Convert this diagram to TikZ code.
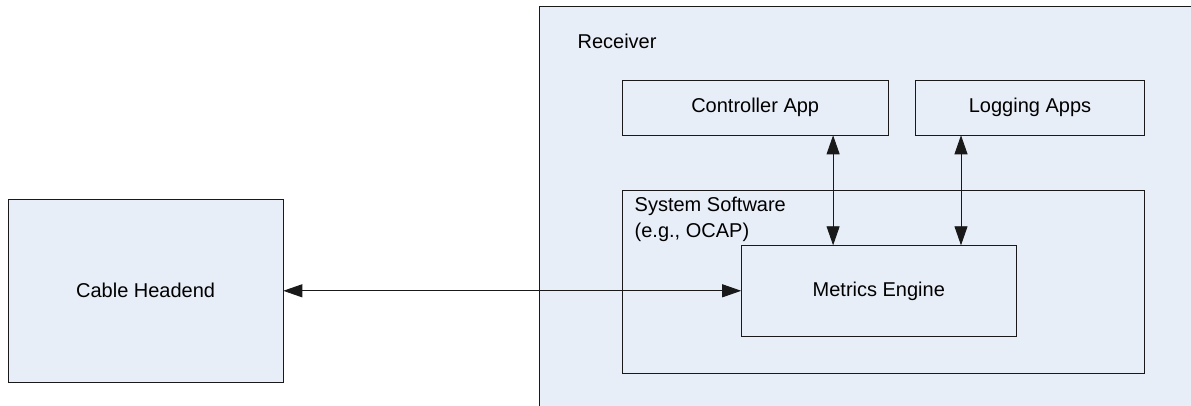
\documentclass[tikz,border=0pt]{standalone}
\usepackage{fontspec}
\setmainfont{Liberation Sans}
\usetikzlibrary{arrows.meta}
\definecolor{boxfill}{RGB}{232,238,247}
\definecolor{lineclr}{RGB}{25,25,25}
\begin{document}
\begin{tikzpicture}[x=1pt,y=-1pt,
  font=\fontsize{20}{25.7}\selectfont,
  box/.style={draw=lineclr, line width=0.9pt, fill=boxfill, rectangle,
    inner sep=0pt, outer sep=0pt, anchor=north west},
  lbl/.style={inner sep=0pt, outer sep=0pt, align=left},
  tipshape/.tip={Triangle[length=19pt,width=13pt]},
  biarrow/.style={draw=lineclr, line width=0.9pt, tipshape-tipshape}]
\useasboundingbox (0,0) rectangle (1191,406);
\clip (0,0) rectangle (1191,406);
% Receiver (extends past the picture edges)
\node[box, minimum width=720pt, minimum height=460pt] (recv) at (539.3,6.7) {};
\node[lbl, anchor=west] (recvlbl) at (577.6,41.7) {Receiver};
% Cable Headend
\node[box, minimum width=275.3pt, minimum height=183pt] (cable) at (8,199.3) {Cable Headend};
% Apps
\node[box, minimum width=266.4pt, minimum height=55pt] (ctrl) at (622,80.3) {Controller App};
\node[box, minimum width=229.4pt, minimum height=55pt] (logg) at (915.3,80.3) {Logging Apps};
% System software
\node[box, minimum width=522.7pt, minimum height=182.7pt] (sys) at (622,190.3) {};
\node[lbl, anchor=north west] (syslbl) at (634.7,196.9) {System Software\\(e.g., OCAP)};
% Metrics engine
\node[box, minimum width=275.2pt, minimum height=91.4pt] (me) at (741.2,245.3) {Metrics Engine};
% arrow columns
\coordinate (a1) at (833.1,0);
\coordinate (a2) at (961.0,0);
\draw[biarrow] (ctrl.south -| a1) -- (me.north -| a1);
\draw[biarrow] (logg.south -| a2) -- (me.north -| a2);
\draw[biarrow] (cable.east) -- (cable.east -| me.west);
\end{tikzpicture}
\end{document}
